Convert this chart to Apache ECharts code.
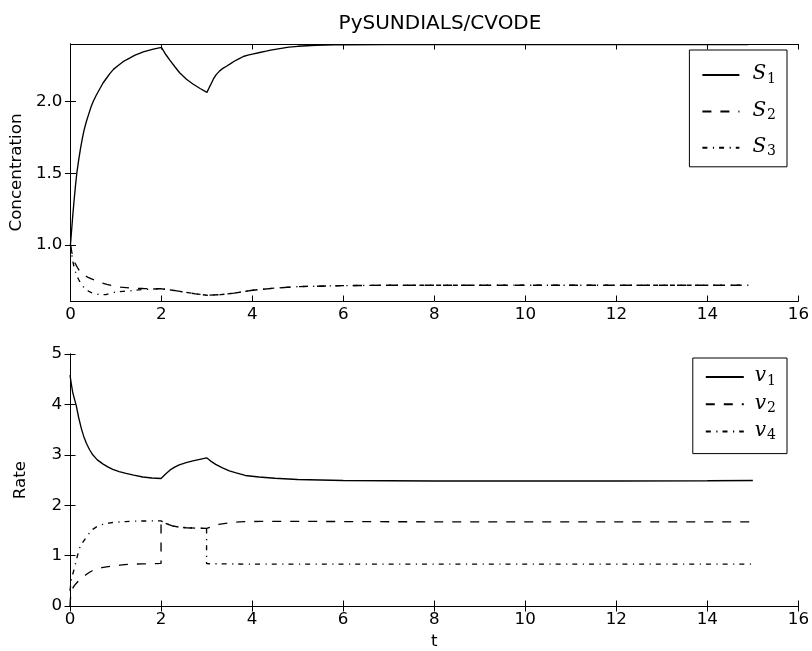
<!DOCTYPE html>
<html>
<head>
<meta charset="utf-8">
<script src="https://cdn.jsdelivr.net/npm/echarts@6/dist/echarts.min.js"></script>
<style>html,body{margin:0;padding:0;background:#fff}#c{width:812px;height:651px}</style>
</head>
<body>
<div id="c"></div>
<script>
// ---- data ----
const xTicks = [0, 2, 4, 6, 8, 10, 12, 14, 16];
const concTicks = [1.0, 1.5, 2.0];
const rateTicks = [0, 1, 2, 3, 4, 5];

const s1T = [0, 0.02, 0.05, 0.08, 0.11, 0.14, 0.18, 0.22, 0.26, 0.3, 0.35, 0.4, 0.45, 0.5, 0.57, 0.64, 0.72, 0.8, 0.87, 0.95, 1.05, 1.15, 1.23, 1.32, 1.42, 1.52, 1.6, 1.7, 1.8, 1.9, 2.0,
  2.05, 2.1, 2.18, 2.3, 2.4, 2.55, 2.7, 2.85, 3.0,
  3.04, 3.08, 3.14, 3.2, 3.28, 3.35, 3.43, 3.52, 3.6, 3.7, 3.8, 3.9, 4.0, 4.16, 4.3, 4.4, 4.6, 4.8, 5.0, 5.2, 5.4, 5.6, 5.8, 6.0, 7.0, 8.0, 10.0, 12.0, 14.9];
const s1V = [1.0, 1.08, 1.2, 1.31, 1.41, 1.5, 1.59, 1.67, 1.74, 1.8, 1.86, 1.91, 1.96, 2.0, 2.045, 2.085, 2.13, 2.165, 2.195, 2.225, 2.25, 2.275, 2.29, 2.305, 2.322, 2.335, 2.345, 2.354, 2.362, 2.37, 2.376,
  2.35, 2.325, 2.29, 2.24, 2.2, 2.155, 2.12, 2.09, 2.063,
  2.09, 2.115, 2.155, 2.185, 2.213, 2.23, 2.245, 2.263, 2.28, 2.297, 2.313, 2.322, 2.33, 2.341, 2.35, 2.357, 2.368, 2.378, 2.384, 2.388, 2.391, 2.393, 2.394, 2.395, 2.396, 2.396, 2.396, 2.396, 2.396];

const s2T = [0, 0.03, 0.06, 0.1, 0.15, 0.2, 0.25, 0.3, 0.4, 0.49, 0.6, 0.7, 0.8, 0.93, 1.1, 1.33, 1.6, 1.8, 2.0, 2.25, 2.5, 2.75, 3.0, 3.3, 3.6, 4.0, 4.5, 5.0, 6.0, 7.0, 8.0, 10.0, 12.0, 14.9];
const s2V = [1.0, 0.95, 0.915, 0.875, 0.845, 0.82, 0.803, 0.79, 0.772, 0.76, 0.746, 0.735, 0.726, 0.717, 0.707, 0.7, 0.697, 0.696, 0.695, 0.685, 0.672, 0.66, 0.65, 0.654, 0.665, 0.685, 0.7, 0.71, 0.717, 0.72, 0.72, 0.72, 0.72, 0.72];

const s3T = [0, 0.03, 0.06, 0.09, 0.13, 0.18, 0.22, 0.26, 0.3, 0.34, 0.4, 0.45, 0.54, 0.65, 0.78, 0.9, 1.01, 1.15, 1.29, 1.5, 1.75, 2.0, 2.25, 2.5, 2.75, 3.0, 3.3, 3.6, 4.0, 4.5, 5.0, 6.0, 7.0, 8.0, 10.0, 12.0, 14.9];
const s3V = [1.0, 0.93, 0.875, 0.83, 0.795, 0.76, 0.738, 0.72, 0.703, 0.69, 0.678, 0.67, 0.66, 0.654, 0.654, 0.665, 0.674, 0.677, 0.68, 0.688, 0.693, 0.695, 0.685, 0.672, 0.66, 0.65, 0.654, 0.665, 0.685, 0.7, 0.71, 0.717, 0.72, 0.72, 0.72, 0.72, 0.72];

const v1T = [0, 0.03, 0.06, 0.1, 0.136, 0.19, 0.25, 0.3, 0.36, 0.43, 0.5, 0.6, 0.72, 0.83, 0.94, 1.08, 1.23, 1.4, 1.6, 1.8, 2.0,
  2.05, 2.1, 2.2, 2.3, 2.4, 2.55, 2.7, 2.85, 3.0,
  3.05, 3.1, 3.2, 3.35, 3.5, 3.65, 3.85, 4.0, 4.15, 4.5, 5.0, 5.5, 6.0, 7.0, 8.0, 10.0, 12.0, 14.0, 15.0];
const v1V = [4.58, 4.4, 4.24, 4.1, 3.98, 3.74, 3.52, 3.37, 3.23, 3.1, 3.0, 2.9, 2.82, 2.76, 2.71, 2.665, 2.63, 2.595, 2.56, 2.54, 2.53,
  2.575, 2.62, 2.7, 2.755, 2.8, 2.845, 2.88, 2.91, 2.94,
  2.905, 2.87, 2.81, 2.74, 2.68, 2.64, 2.59, 2.575, 2.56, 2.535, 2.51, 2.5, 2.49, 2.485, 2.48, 2.48, 2.48, 2.485, 2.49];

const v2T = [0, 0.01, 0.02, 0.04, 0.07, 0.1, 0.14, 0.2, 0.25, 0.3, 0.35, 0.42, 0.49, 0.6, 0.7, 0.8, 0.91, 1.0, 1.1, 1.2, 1.33, 1.6, 1.8, 2.0,
  2.0, 2.1, 2.26, 2.4, 2.55, 2.75, 3.0, 3.1, 3.27, 3.5, 3.72, 4.2, 5.0, 6.0, 8.0, 10.0, 12.0, 15.0];
const v2V = [0.0, 0.15, 0.25, 0.31, 0.37, 0.41, 0.45, 0.51, 0.55, 0.59, 0.62, 0.665, 0.7, 0.735, 0.76, 0.777, 0.79, 0.8, 0.81, 0.82, 0.83, 0.835, 0.84, 0.845,
  1.69, 1.64, 1.587, 1.565, 1.553, 1.545, 1.54, 1.57, 1.62, 1.65, 1.67, 1.68, 1.68, 1.675, 1.67, 1.67, 1.67, 1.67];

const v4T = [0, 0.015, 0.03, 0.06, 0.09, 0.12, 0.15, 0.18, 0.21, 0.27, 0.34, 0.42, 0.5, 0.6, 0.72, 0.85, 0.97, 1.1, 1.21, 1.5, 2.0,
  2.1, 2.26, 2.4, 2.55, 2.75, 3.0, 3.0, 3.5, 4.0, 6.0, 8.0, 10.0, 12.0, 15.0];
const v4V = [0.3, 0.42, 0.52, 0.63, 0.73, 0.84, 0.95, 1.05, 1.15, 1.25, 1.34, 1.44, 1.52, 1.58, 1.62, 1.645, 1.66, 1.67, 1.675, 1.685, 1.69,
  1.64, 1.587, 1.565, 1.553, 1.545, 1.54, 0.84, 0.835, 0.83, 0.83, 0.83, 0.83, 0.83, 0.83];

// ---- chart ----
const pair = (t, v) => t.map((x, i) => [x, v[i]]);
const FONT = 'DejaVu Sans';
const DASH = [9, 9];
const DASHDOT = [5, 5.5, 1.2, 5];

const chart = echarts.init(document.getElementById('c'), null, {renderer: 'canvas'});

function xAx(grid, pos, showLabel, name) {
  return {
    type: 'value', gridIndex: grid, position: pos, min: 0, max: 16, interval: 2,
    axisLine: {show: true, lineStyle: {color: '#000', width: 1}},
    axisTick: {show: true, inside: true, length: 5.5, lineStyle: {color: '#000'}},
    axisLabel: {show: showLabel, margin: 5, fontFamily: FONT, fontSize: 16.7, color: '#000',
      formatter: v => xTicks.includes(v) ? String(v) : ''},
    splitLine: {show: false},
    name: name || '', nameLocation: 'middle', nameGap: 27,
    nameTextStyle: {fontFamily: FONT, fontSize: 16.7, color: '#000'}
  };
}
function yConc(pos, showLabel) {
  return {
    type: 'value', gridIndex: 0, position: pos, min: 0.61, max: 2.4,
    axisLine: {show: true, lineStyle: {color: '#000', width: 1}},
    axisTick: {show: true, inside: true, length: 5.5, customValues: concTicks, lineStyle: {color: '#000'}},
    axisLabel: {show: showLabel, customValues: concTicks, margin: 8, fontFamily: FONT, fontSize: 16.7, color: '#000',
      formatter: v => v.toFixed(1)},
    splitLine: {show: false},
    name: showLabel ? 'Concentration' : '', nameLocation: 'middle', nameGap: 41, nameRotate: 90,
    nameTextStyle: {fontFamily: FONT, fontSize: 16.7, color: '#000'}
  };
}
function yRate(pos, showLabel) {
  return {
    type: 'value', gridIndex: 1, position: pos, min: 0, max: 5, interval: 1,
    axisLine: {show: true, lineStyle: {color: '#000', width: 1}},
    axisTick: {show: true, inside: true, length: 5.5, lineStyle: {color: '#000'}},
    axisLabel: {show: showLabel, margin: 8, fontFamily: FONT, fontSize: 16.7, color: '#000',
      formatter: v => rateTicks.includes(v) ? String(v) : ''},
    splitLine: {show: false},
    name: showLabel ? 'Rate' : '', nameLocation: 'middle', nameGap: 41, nameRotate: 90,
    nameTextStyle: {fontFamily: FONT, fontSize: 16.7, color: '#000'}
  };
}

function line(name, t, v, xi, yi, type) {
  return {
    name, type: 'line', xAxisIndex: xi, yAxisIndex: yi, data: pair(t, v),
    symbol: 'none', showSymbol: false, smooth: false, silent: true,
    lineStyle: {color: '#000', width: 1.35, type: type},
    itemStyle: {color: '#000'},
    emphasis: {disabled: true}
  };
}

function makeRich(gap) {
  return {
    i: {fontFamily: 'DejaVu Serif', fontStyle: 'italic', fontSize: 20, lineHeight: 22, verticalAlign: 'top', color: '#000', padding: [0, 0, 0, gap]},
    s: {fontFamily: 'DejaVu Serif', fontSize: 14, lineHeight: 16, padding: [12, 0, 0, 1], verticalAlign: 'bottom', color: '#000'}
  };
}
const fmt = name => '{i|' + name[0] + '}{s|' + name.slice(1) + '}';

const option = {
  animation: false,
  backgroundColor: '#fff',
  title: {
    text: 'PySUNDIALS/CVODE', left: 435, top: 9, textAlign: 'center',
    textStyle: {fontFamily: FONT, fontSize: 20, fontWeight: 'normal', color: '#000'}
  },
  grid: [
    {left: 70, right: 13, top: 44, height: 257},
    {left: 70, right: 13, top: 354, height: 257}
  ],
  xAxis: [xAx(0, 'bottom', true), xAx(0, 'top', false), xAx(1, 'bottom', true, 't'), xAx(1, 'top', false)],
  yAxis: [yConc('left', true), yConc('right', false), yRate('left', true), yRate('right', false)],
  legend: [
    {
      data: ['S1', 'S2', 'S3'], orient: 'vertical', right: 25, top: 50,
      itemWidth: 37, itemHeight: 14, itemGap: 10.4, padding: [10, 11, 8, 12],
      borderColor: '#000', borderWidth: 1, backgroundColor: '#fff',
      itemStyle: {opacity: 0},
      formatter: fmt, textStyle: {rich: makeRich(8)}, selectedMode: false
    },
    {
      data: ['v1', 'v2', 'v4'], orient: 'vertical', right: 25, top: 358,
      itemWidth: 38, itemHeight: 14, itemGap: 1.3, padding: [4, 11, 11, 12],
      borderColor: '#000', borderWidth: 1, backgroundColor: '#fff',
      itemStyle: {opacity: 0},
      formatter: fmt, textStyle: {rich: makeRich(6)}, selectedMode: false
    }
  ],
  series: [
    line('S1', s1T, s1V, 0, 0, 'solid'),
    line('S2', s2T, s2V, 0, 0, DASH),
    line('S3', s3T, s3V, 0, 0, DASHDOT),
    line('v1', v1T, v1V, 2, 2, 'solid'),
    line('v2', v2T, v2V, 2, 2, DASH),
    line('v4', v4T, v4V, 2, 2, DASHDOT)
  ]
};
chart.setOption(option);
</script>
</body>
</html>
